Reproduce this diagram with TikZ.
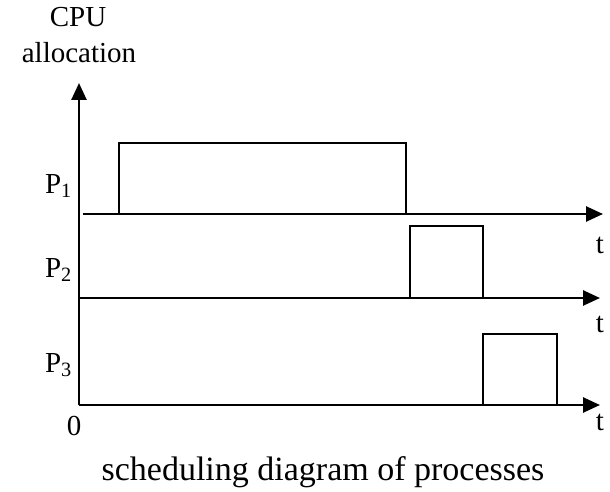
\documentclass[tikz,border=0pt]{standalone}
\usepackage{fontspec}
\setmainfont{Liberation Serif}
\usepackage{tikz}
\usetikzlibrary{arrows.meta,positioning}
\tikzset{
  axis/.style={line width=2.6pt, -{Triangle[length=17pt,width=15pt]}},
  slot/.style={line width=2.6pt, line join=miter},
  lbl/.style={inner sep=0pt, font=\fontsize{29}{34}\selectfont},
  tlbl/.style={inner sep=0pt, anchor=base, font=\fontsize{29}{34}\selectfont},
  caption/.style={inner sep=0pt, anchor=base, font=\fontsize{34}{40}\selectfont}
}
\begin{document}
\begin{tikzpicture}[x=1pt,y=1pt]
\useasboundingbox (0,0) rectangle (610,491);
% axes
\coordinate (o) at (79,86);
\coordinate (ytop) at (79,408);
\coordinate (a1) at (83,277);
\coordinate (e1) at (603,277);
\coordinate (a2) at (79,193);
\coordinate (e2) at (600,193);
\coordinate (e3) at (600,86);
\draw[axis] (o) -- (ytop);
\draw[axis] (a1) -- (e1);
\draw[axis] (a2) -- (e2);
\draw[axis] (o) -- (e3);
% time slots
\draw[slot] (119,277) -- (119,348) -- (406,348) -- (406,277);
\draw[slot] (410,193) -- (410,265) -- (483,265) -- (483,193);
\draw[slot] (483,86) -- (483,157) -- (557,157) -- (557,86);
% labels
\node[tlbl] (cpu) at (78,464) {CPU};
\node[tlbl] (alloc) at (79,428) {allocation};
\node[lbl, anchor=base east] (p1) at (72,298) {P\textsubscript{1}};
\node[lbl, anchor=base east] (p2) at (72,214) {P\textsubscript{2}};
\node[lbl, anchor=base east] (p3) at (72,119) {P\textsubscript{3}};
\node[tlbl] (t1) at (600,238) {t};
\node[tlbl] (t2) at (600,159) {t};
\node[tlbl] (t3) at (600,61) {t};
\node[tlbl] (zero) at (74,56) {0};
\node[caption] (title) at (323,11) {scheduling diagram of processes};
\end{tikzpicture}
\end{document}
